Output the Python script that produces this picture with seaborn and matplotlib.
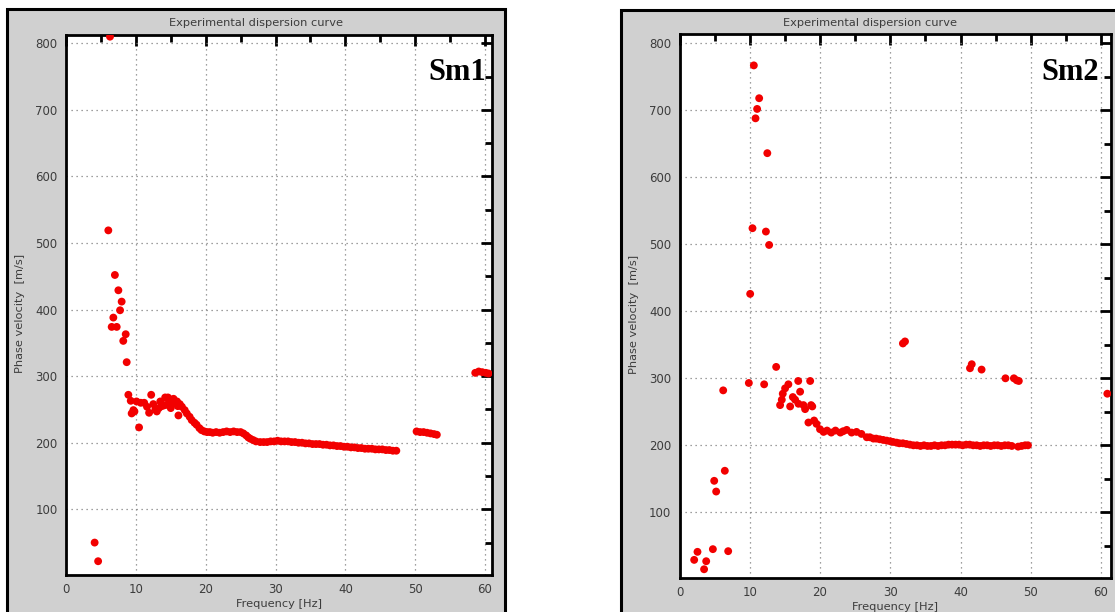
import matplotlib
matplotlib.use("Agg")
import matplotlib.pyplot as plt
from matplotlib.patches import Rectangle
from matplotlib.ticker import MultipleLocator
import seaborn as sns

# ---------------- data ----------------
sm1_freq = [4.1, 4.6, 6.3, 6.06, 7.0, 7.5, 7.97, 7.74, 6.78, 6.54, 7.26, 8.55, 8.2, 8.69,
            8.93, 9.27, 9.65, 9.4, 9.8, 10.1, 10.46, 10.7, 11.2, 11.6, 11.9, 12.2, 12.5,
            12.8, 13.0, 13.3, 13.5, 13.7, 14.0, 14.2, 14.6, 14.4, 14.8, 15.0, 15.2, 15.4,
            15.6, 15.9, 16.0, 16.1, 16.3,
            16.6, 17.0, 17.3, 17.7, 18.0, 18.4, 18.7, 19.1, 19.4, 19.8, 20.2, 20.6, 21.0,
            21.5, 22.0, 22.5, 23.0, 23.5, 24.0, 24.5, 25.0, 25.4, 25.8, 26.1, 26.4, 26.8,
            27.2, 27.8, 28.3, 28.8, 29.3, 29.8, 30.3, 30.8, 31.3, 31.8, 32.3, 32.8, 33.3,
            33.8, 34.3, 34.8, 35.3, 35.8, 36.3, 36.8, 37.3, 37.8, 38.3, 38.8, 39.3, 39.8,
            40.3, 40.8, 41.3, 41.8, 42.3, 42.8, 43.3, 43.8, 44.3, 44.8, 45.3, 45.8, 46.3,
            46.8, 47.3,
            50.2, 50.7, 51.2, 51.7, 52.2, 52.7, 53.1,
            58.6, 59.1, 59.6, 60.1, 60.5]
sm1_vel = [50, 22, 810, 519, 452, 429, 412, 399, 388, 374, 374, 363, 353, 321,
           272, 263, 249, 244, 247, 262, 223, 260, 260, 254, 245, 272, 258,
           250, 247, 252, 262, 255, 256, 268, 268, 257, 258, 252, 259, 266,
           261, 262, 255, 241, 258,
           254, 249, 244, 239, 234, 230, 227, 222, 219, 217, 216, 216, 215,
           216, 215, 216, 217, 216, 217, 216, 216, 214, 211, 208, 206, 204,
           202, 201, 201, 201, 202, 202, 203, 202, 202, 202, 201, 201, 200,
           200, 199, 199, 198, 198, 198, 197, 197, 196, 196, 195, 195, 194,
           194, 193, 193, 192, 192, 191, 191, 191, 190, 190, 190, 189, 189,
           188, 188,
           217, 216, 216, 215, 214, 213, 212,
           305, 307, 306, 305, 304]

sm2_freq = [2.09, 2.56, 3.5, 3.8, 4.75, 6.93, 4.94, 5.22, 6.45, 6.22,
            10.06, 10.39, 10.58, 10.82, 11.05, 11.34, 12.3, 12.5, 12.76,
            9.87, 12.05, 13.76, 16.9, 18.6, 17.17,
            14.32, 14.56, 14.7, 15.03, 15.5,
            15.75, 16.13, 16.46, 16.93, 17.64, 17.88, 18.73, 18.9,
            18.35, 19.16, 19.5, 20.0, 20.5, 21.0, 21.6, 22.2, 22.9, 23.3, 23.8, 24.5,
            25.2, 25.9, 26.66, 27.1, 27.6, 28.0, 28.5, 29.0, 29.5, 30.0, 30.4, 30.9,
            31.3, 31.8, 32.3, 32.8, 33.3, 33.8, 34.3, 34.8, 35.3, 35.8, 36.3, 36.8,
            37.3, 37.8, 38.3, 38.8, 39.3, 39.8, 40.3, 40.8, 41.3, 41.8, 42.3, 42.8,
            43.3, 43.8, 44.3, 44.8, 45.3, 45.8, 46.3, 46.8, 47.3, 48.2, 48.7, 49.2, 49.6,
            31.8, 32.1, 41.35, 41.6, 43.0, 46.4, 47.6, 48.0, 48.3, 60.9]
sm2_vel = [29, 41, 15, 27, 45, 42, 147, 131, 162, 282,
           426, 524, 767, 688, 702, 718, 519, 636, 499,
           293, 291, 317, 296, 296, 280,
           260, 268, 277, 285, 291,
           258, 272, 268, 262, 260, 254, 260, 258,
           234, 237, 232, 224, 220, 222, 219, 222, 219, 221, 223, 219,
           220, 217, 212, 212, 210, 210, 209, 208, 207, 206, 205, 204,
           203, 203, 202, 201, 200, 200, 199, 200, 199, 199, 200, 199,
           200, 200, 201, 201, 201, 201, 200, 201, 201, 200, 200, 199,
           200, 200, 199, 200, 200, 199, 200, 200, 199, 198, 199, 200, 200,
           352, 355, 315, 321, 313, 300, 300, 297, 296, 277]

panel_labels = ["Sm1", "Sm2"]
title_text = "Experimental dispersion curve"
xlabel_text = "Frequency [Hz]"
ylabel_text = "Phase velocity  [m/s]"
x_ticks = [0, 10, 20, 30, 40, 50, 60]
y_ticks = [100, 200, 300, 400, 500, 600, 700, 800]

# ---------------- figure ----------------
sns.set_style("white")
plt.rcParams['font.family'] = ['DejaVu Sans']

W, H = 1115, 612
fig = plt.figure(figsize=(W / 100, H / 100), dpi=100)
fig.patch.set_facecolor("white")

BOX = "#d0d0d0"
TXT = "#3c3c3c"
RED = "#f20000"

def px_rect(x0, y0, x1, y1):
    return [x0 / W, 1 - y1 / H, (x1 - x0) / W, (y1 - y0) / H]

panels = [
    dict(box=(7, 9, 505, 640), ax=(66, 35, 492, 575), xlim=(0, 61.0), ylim=(1.3, 812.5),
         freq=sm1_freq, vel=sm1_vel, label=panel_labels[0], ylab_x=20, lab_x=486),
    dict(box=(621, 10, 1119, 640), ax=(679.5, 34.3, 1110.7, 577.7), xlim=(0, 61.38), ylim=(2.4, 813.4),
         freq=sm2_freq, vel=sm2_vel, label=panel_labels[1], ylab_x=634, lab_x=1099),
]

for p in panels:
    bx0, by0, bx1, by1 = p["box"]
    fig.patches.append(Rectangle((bx0 / W, 1 - by1 / H), (bx1 - bx0) / W, (by1 - by0) / H,
                                 transform=fig.transFigure, facecolor=BOX,
                                 edgecolor="black", linewidth=2.2, zorder=-5))
    fig.text((bx0 + bx1) / 2 / W, 1 - 23 / H, title_text, ha="center", va="center",
             fontsize=8.2, color=TXT)

    ax = fig.add_axes(px_rect(*p["ax"]))
    ax.set_zorder(2)
    ax.set_facecolor("white")
    sns.scatterplot(x=p["freq"], y=p["vel"], ax=ax, color=RED, s=32,
                    edgecolor="none", linewidth=0, zorder=3)
    ax.set_xlim(*p["xlim"])
    ax.set_ylim(*p["ylim"])
    ax.set_xticks(x_ticks)
    ax.set_yticks(y_ticks)
    ax.xaxis.set_minor_locator(MultipleLocator(5))
    ax.yaxis.set_minor_locator(MultipleLocator(50))
    ax.tick_params(which="major", direction="in", length=8, width=2, color="black",
                   top=True, right=True, labelsize=8.5, labelcolor=TXT, pad=6)
    ax.tick_params(which="minor", direction="in", length=5, width=2, color="black",
                   top=True, right=True)
    ax.grid(True, which="major", linestyle=(0, (1, 3)), color="#808080", linewidth=0.9)
    for sp in ax.spines.values():
        sp.set_visible(True)
        sp.set_color("black")
        sp.set_linewidth(2)
    ax.set_xlabel(xlabel_text, fontsize=8.2, color=TXT, labelpad=2)
    ax.set_ylabel("")
    ax0y = (p["ax"][1] + p["ax"][3]) / 2 + 8
    fig.text(p["ylab_x"] / W, 1 - ax0y / H, ylabel_text, rotation=90,
             ha="center", va="center", fontsize=8.2, color=TXT, zorder=5)
    fig.text(p["lab_x"] / W, 1 - 80 / H, p["label"], ha="right", va="baseline",
             fontsize=22, fontweight="bold", family="Liberation Serif", color="black",
             zorder=10)

fig.savefig("out.png", dpi=100)
